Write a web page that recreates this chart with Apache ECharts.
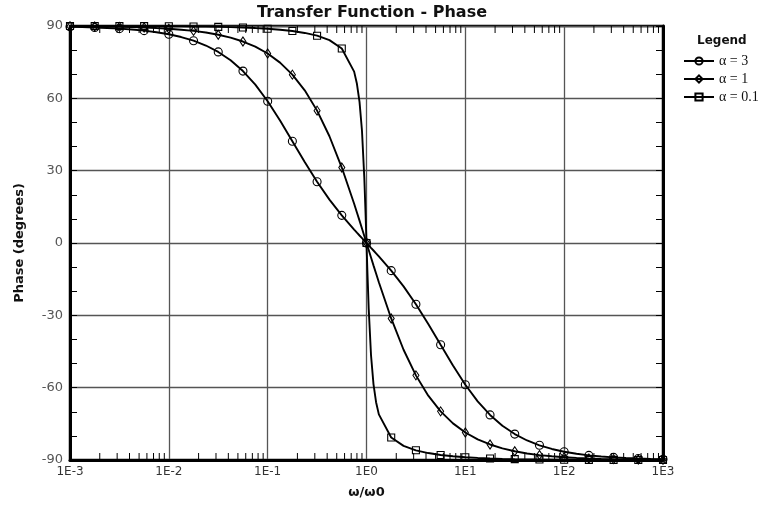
<!DOCTYPE html>
<html><head><meta charset="utf-8">
<script src="https://cdn.jsdelivr.net/npm/echarts@6/dist/echarts.min.js"></script>
<style>html,body{margin:0;padding:0;background:#fff}#c{width:766px;height:510px}</style>
</head><body><div id="c"></div>
<script>
const omega = [0.001, 0.001334, 0.001778, 0.002371, 0.003162, 0.004217, 0.005623, 0.007499,
  0.01, 0.01334, 0.01778, 0.02371, 0.03162, 0.04217, 0.05623, 0.07499,
  0.1, 0.1334, 0.1778, 0.2371, 0.3162, 0.4217, 0.5623, 0.7499,
  0.8, 0.85, 0.9, 0.95, 0.98, 1, 1.0204, 1.0526, 1.1111, 1.1765, 1.25,
  1.3335, 1.7783, 2.3714, 3.1623, 4.217, 5.6234, 7.4989,
  10, 13.335, 17.783, 23.714, 31.623, 42.17, 56.234, 74.989,
  100, 133.35, 177.83, 237.14, 316.23, 421.7, 562.34, 749.89, 1000];
const phaseA3 = [89.66, 89.54, 89.39, 89.18, 88.91, 88.55, 88.07, 87.42, 86.57, 85.42, 83.91, 81.90, 79.25, 75.78, 71.30, 65.66, 58.78, 50.83, 42.22, 33.56, 25.38, 18.00, 11.46, 5.56, 4.29, 3.11, 2.02, 0.98, 0.39, 0, -0.39, -0.98, -2.02, -3.11, -4.29, -5.56, -11.46, -18.00, -25.38, -33.56, -42.22, -50.83, -58.78, -65.66, -71.30, -75.78, -79.25, -81.90, -83.91, -85.42, -86.57, -87.42, -88.07, -88.55, -88.91, -89.18, -89.39, -89.54, -89.66];
const phaseA1 = [89.89, 89.85, 89.80, 89.73, 89.64, 89.52, 89.36, 89.14, 88.85, 88.47, 87.96, 87.28, 86.38, 85.17, 83.56, 81.42, 78.58, 74.81, 69.83, 63.32, 54.90, 44.27, 31.29, 16.27, 12.68, 9.27, 6.03, 2.94, 1.16, 0, -1.16, -2.94, -6.03, -9.27, -12.68, -16.27, -31.29, -44.27, -54.90, -63.32, -69.83, -74.81, -78.58, -81.42, -83.56, -85.17, -86.38, -87.28, -87.96, -88.47, -88.85, -89.14, -89.36, -89.52, -89.64, -89.73, -89.80, -89.85, -89.89];
const phaseA01 = [89.99, 89.98, 89.98, 89.97, 89.96, 89.95, 89.94, 89.91, 89.89, 89.85, 89.80, 89.73, 89.64, 89.52, 89.35, 89.14, 88.84, 88.44, 87.90, 87.12, 85.98, 84.14, 80.66, 71.08, 66.04, 58.51, 46.55, 27.16, 11.42, 0, -11.42, -27.16, -46.55, -58.51, -66.04, -71.08, -80.66, -84.14, -85.98, -87.12, -87.90, -88.44, -88.84, -89.14, -89.35, -89.52, -89.64, -89.73, -89.80, -89.85, -89.89, -89.91, -89.94, -89.95, -89.96, -89.97, -89.98, -89.98, -89.99];
const seriesNames = ['α = 3', 'α = 1', 'α = 0.1'];
const seriesSymbols = ['circle', 'diamond', 'rect'];
const xTickLabels = ['1E-3', '1E-2', '1E-1', '1E0', '1E1', '1E2', '1E3'];
const yTicks = [-90, -60, -30, 0, 30, 60, 90];
const minorTicks = [];
for (let e = -3; e < 3; e++) for (let m = 2; m <= 9; m++) minorTicks.push(m * Math.pow(10, e));

function isMarker(w) {
  const l = Math.log10(w) * 4;
  return Math.abs(l - Math.round(l)) < 0.01;
}
function build(ys) {
  return omega.map((w, i) => isMarker(w) ? [w, ys[i]] : { value: [w, ys[i]], symbol: 'none' });
}
const allPhases = [phaseA3, phaseA1, phaseA01];

const chart = echarts.init(document.getElementById('c'), null, { renderer: 'canvas' });
const lineSeries = allPhases.map((ys, k) => ({
  name: seriesNames[k], type: 'line', data: build(ys),
  symbol: seriesSymbols[k], symbolSize: k === 1 ? [6, 9] : (k === 2 ? 7 : 8),
  showAllSymbol: true, clip: false,
  lineStyle: { color: '#000', width: 1.9 },
  itemStyle: { color: 'rgba(255,255,255,0)', borderColor: '#000', borderWidth: 1.1 },
  z: 5
}));
chart.setOption({
  animation: false,
  title: [
    { text: 'Transfer Function - Phase', left: 367, top: 0, textAlign: 'center',
      textStyle: { fontFamily: 'DejaVu Sans', fontSize: 16, fontWeight: 'bold', color: '#111' } },
    { text: 'Legend', left: 692, top: 30,
      textStyle: { fontFamily: 'DejaVu Sans', fontSize: 12, fontWeight: 'bold', color: '#111' } }
  ],
  legend: {
    data: seriesNames, orient: 'vertical', left: 678, top: 49, itemGap: 4,
    itemWidth: 30, itemHeight: 9,
    textStyle: { fontFamily: 'Liberation Serif', fontSize: 14, lineHeight: 14, color: '#111' }
  },
  grid: { left: 70, right: 103, top: 26, bottom: 50, show: true, borderColor: '#000', borderWidth: 2.5 },
  xAxis: {
    type: 'log', logBase: 10, min: 0.001, max: 1000,
    name: 'ω/ω0', nameLocation: 'middle', nameGap: 26,
    nameTextStyle: { fontFamily: 'DejaVu Sans', fontSize: 13, fontWeight: 'bold', color: '#111' },
    axisLine: { show: true, onZero: false, lineStyle: { color: '#000', width: 3 } },
    axisTick: { show: false },
    axisLabel: { color: '#333', fontFamily: 'DejaVu Sans', fontSize: 12, margin: 6,
      formatter: v => xTickLabels[Math.round(Math.log10(v)) + 3] },
    splitLine: { show: true, lineStyle: { color: '#555', width: 1.3 } }
  },
  yAxis: [{
    type: 'value', min: -90, max: 90, interval: 30,
    name: 'Phase (degrees)', nameLocation: 'middle', nameGap: 44,
    nameTextStyle: { fontFamily: 'DejaVu Sans', fontSize: 13, fontWeight: 'bold', color: '#111' },
    axisLine: { show: true, onZero: false, lineStyle: { color: '#000', width: 3 } },
    axisTick: { show: true, inside: true, length: 7, lineStyle: { color: '#000' } },
    minorTick: { show: true, splitNumber: 3, length: 7, lineStyle: { color: '#000' } },
    axisLabel: { color: '#555', fontFamily: 'DejaVu Sans', fontSize: 13, margin: 7,
      formatter: v => String(yTicks[yTicks.indexOf(v)]) },
    splitLine: { show: true, lineStyle: { color: '#555', width: 1.3 } }
  }, {
    type: 'value', min: -90, max: 90, interval: 30, position: 'right',
    axisLine: { show: true, onZero: false, lineStyle: { color: '#000', width: 3 } },
    axisTick: { show: true, inside: true, length: 7, lineStyle: { color: '#000' } },
    minorTick: { show: true, splitNumber: 3, length: 7, lineStyle: { color: '#000' } },
    axisLabel: { show: false }, splitLine: { show: false }
  }],
  series: lineSeries.concat([{
    type: 'custom', name: 'ticks', silent: true, clip: false, z: 3,
    data: minorTicks.map(v => [v, 0]),
    encode: { x: 0, y: 1 },
    renderItem: (params, api) => {
      const v = api.value(0);
      const b = api.coord([v, -90]), t = api.coord([v, 90]);
      return { type: 'group', children: [
        { type: 'line', shape: { x1: b[0], y1: b[1], x2: b[0], y2: b[1] - 7 }, style: { stroke: '#000', lineWidth: 1 } },
        { type: 'line', shape: { x1: t[0], y1: t[1], x2: t[0], y2: t[1] + 7 }, style: { stroke: '#000', lineWidth: 1 } }
      ] };
    }
  }])
});
</script></body></html>
